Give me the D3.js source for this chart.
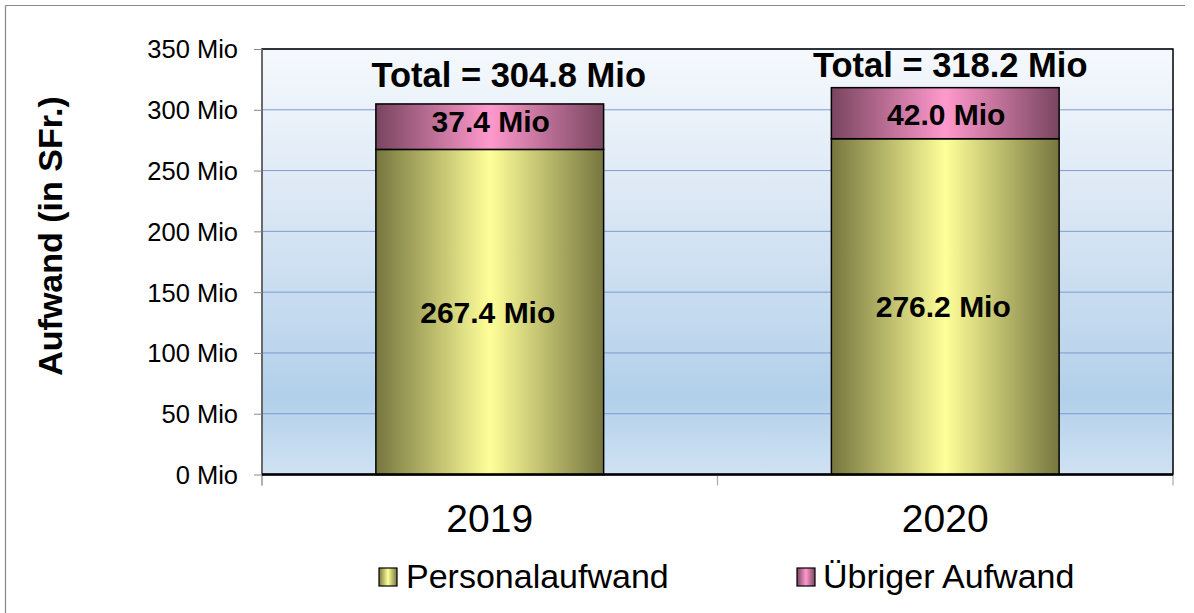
<!DOCTYPE html>
<html><head><meta charset="utf-8">
<script src="https://cdn.jsdelivr.net/npm/d3@7"></script>
<style>
html,body{margin:0;padding:0;background:#fff;}
svg{display:block;font-family:"Liberation Sans",Arial,sans-serif;}
</style></head>
<body><svg id="c" width="1194" height="613"></svg>
<script>
const categories = ["2019", "2020"];
const personal = [267.4, 276.2];
const other = [37.4, 42.0];
const totals = [304.8, 318.2];
const seriesNames = ["Personalaufwand", "Übriger Aufwand"];
const yTicks = [0, 50, 100, 150, 200, 250, 300, 350];
const yTitle = "Aufwand (in SFr.)";

const svg = d3.select("#c");
const defs = svg.append("defs");
const L = 262, R = 1173, T = 49, B = 474.5;

const bg = defs.append("linearGradient").attr("id","bg").attr("x1",0).attr("y1",0).attr("x2",0).attr("y2",1);
[[0,"#f5f9fd"],[0.35,"#dce8f5"],[0.82,"#b2d0ea"],[1,"#d0e2f3"]].forEach(s=>bg.append("stop").attr("offset",s[0]).attr("stop-color",s[1]));
function hgrad(id, edge, mid){
  const g = defs.append("linearGradient").attr("id",id).attr("x1",0).attr("y1",0).attr("x2",1).attr("y2",0);
  [[0,edge],[0.5,mid],[1,edge]].forEach(s=>g.append("stop").attr("offset",s[0]).attr("stop-color",s[1]));
}
hgrad("gY","#76763f","#ffff99");
hgrad("gP","#794560","#ff99cc");

// outer frame (top and left visible)
svg.append("line").attr("x1",5.5).attr("x2",1185).attr("y1",5.5).attr("y2",5.5).attr("stroke","#888").attr("stroke-width",1.2);
svg.append("line").attr("x1",5.5).attr("x2",5.5).attr("y1",5.5).attr("y2",613).attr("stroke","#888").attr("stroke-width",1.2);

const x = d3.scaleBand().domain(categories).range([L,R]).paddingInner(0).paddingOuter(0);
const y = d3.scaleLinear().domain([0,350]).range([B,T]);
const bw = x.bandwidth()*0.5;

svg.append("rect").attr("x",L).attr("y",T).attr("width",R-L).attr("height",B-T).attr("fill","url(#bg)");

// gridlines
svg.append("g").selectAll("line").data(yTicks.filter(d=>d>0)).join("line")
  .attr("x1",L).attr("x2",R).attr("y1",d=>y(d)).attr("y2",d=>y(d))
  .attr("stroke","#7f9bd2").attr("stroke-width",1);

// plot border
svg.append("rect").attr("x",L).attr("y",T).attr("width",R-L).attr("height",B-T)
  .attr("fill","none").attr("stroke","#000").attr("stroke-width",1.5);

// y axis
const ya = d3.axisLeft(y).tickValues(yTicks).tickSize(8).tickPadding(16).tickFormat(d=>d+" Mio");
const yg = svg.append("g").attr("transform",`translate(${L},0)`).call(ya);
yg.select(".domain").remove();
yg.selectAll(".tick line").attr("stroke","#888");
yg.selectAll(".tick text").attr("font-size",25.5).attr("fill","#000").attr("font-family","Liberation Sans, Arial, sans-serif").attr("dy","0.35em");
svg.append("line").attr("x1",L).attr("x2",L).attr("y1",T).attr("y2",B+11).attr("stroke","#888").attr("stroke-width",1.2);

// x axis ticks (category boundaries)
const bounds = [L].concat(categories.map(c=>x(c)+x.bandwidth()));
svg.append("g").selectAll("line").data(bounds).join("line")
  .attr("x1",d=>d).attr("x2",d=>d).attr("y1",B).attr("y2",B+11).attr("stroke","#aaa").attr("stroke-width",1.2);

// category labels
svg.append("g").selectAll("text").data(categories).join("text")
  .attr("x",d=>x(d)+x.bandwidth()/2).attr("y",531.5).attr("text-anchor","middle")
  .attr("font-size",39).text(d=>d);

// bars
const cx = d => x(d)+x.bandwidth()/2;
svg.append("g").selectAll("rect").data(categories).join("rect")
  .attr("x",d=>cx(d)-bw/2).attr("width",bw)
  .attr("y",(d,i)=>y(personal[i])).attr("height",(d,i)=>y(0)-y(personal[i]))
  .attr("fill","url(#gY)").attr("stroke","#000").attr("stroke-width",1.5);
svg.append("g").selectAll("rect").data(categories).join("rect")
  .attr("x",d=>cx(d)-bw/2).attr("width",bw)
  .attr("y",(d,i)=>y(personal[i]+other[i])).attr("height",(d,i)=>y(personal[i])-y(personal[i]+other[i]))
  .attr("fill","url(#gP)").attr("stroke","#000").attr("stroke-width",1.5);

// bottom axis line over bars
svg.append("line").attr("x1",L).attr("x2",R).attr("y1",B).attr("y2",B).attr("stroke","#000").attr("stroke-width",2.5);

// segment labels
svg.append("g").selectAll("text").data(categories).join("text")
  .attr("x",d=>cx(d)-2).attr("y",(d,i)=>(y(0)+y(personal[i]))/2).attr("dy","0.36em")
  .attr("text-anchor","middle").attr("font-size",30).attr("font-weight","bold").text((d,i)=>personal[i].toFixed(1)+" Mio");
const segDy = [-5, 1];
svg.append("g").selectAll("text").data(categories).join("text")
  .attr("x",d=>cx(d)+1).attr("y",(d,i)=>(y(personal[i])+y(personal[i]+other[i]))/2 + segDy[i]).attr("dy","0.36em")
  .attr("text-anchor","middle").attr("font-size",30).attr("font-weight","bold").text((d,i)=>other[i].toFixed(1)+" Mio");

// total labels (manually placed text boxes in original)
const totDx = [19, 5], totDy = [-16.6, -10.3];
svg.append("g").selectAll("text").data(categories).join("text")
  .attr("x",(d,i)=>cx(d)+totDx[i]).attr("y",(d,i)=>y(totals[i])+totDy[i])
  .attr("text-anchor","middle").attr("font-size",34.5).attr("font-weight","bold").text((d,i)=>"Total = "+totals[i].toFixed(1)+" Mio");

// y title
svg.append("text").attr("transform","translate(62,236) rotate(-90)").attr("text-anchor","middle")
  .attr("font-size",34).attr("font-weight","bold").text(yTitle);

// legend
const legX = [379, 797], legText = [406, 823], fills = ["url(#gY)","url(#gP)"];
const lg = svg.append("g");
lg.selectAll("rect").data(seriesNames).join("rect")
  .attr("x",(d,i)=>legX[i]).attr("y",568).attr("width",18).attr("height",18)
  .attr("fill",(d,i)=>fills[i]).attr("stroke","#000").attr("stroke-width",1.2);
lg.selectAll("text").data(seriesNames).join("text")
  .attr("x",(d,i)=>legText[i]).attr("y",587.5).attr("font-size",34).text(d=>d);
</script></body></html>
